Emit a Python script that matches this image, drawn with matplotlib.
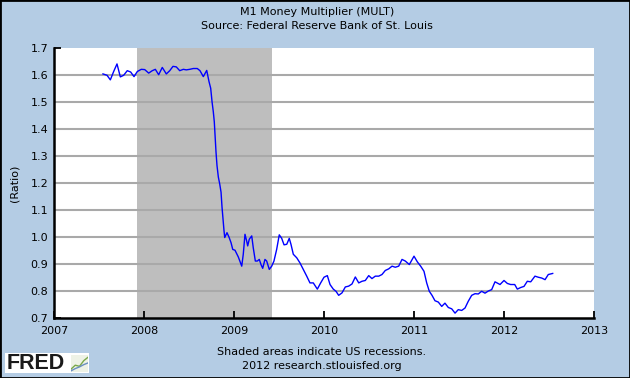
import matplotlib
matplotlib.use("agg")
import matplotlib.pyplot as plt
from matplotlib.patches import Rectangle

# M1 money multiplier (decimal years, ratio)
years = [
    2007.544, 2007.589, 2007.626, 2007.663, 2007.700, 2007.737, 2007.774, 2007.814,
    2007.852, 2007.889, 2007.926, 2007.970, 2008.008, 2008.052, 2008.092, 2008.126,
    2008.163, 2008.203, 2008.248, 2008.286, 2008.322, 2008.359, 2008.397, 2008.437,
    2008.470, 2008.508, 2008.548, 2008.592, 2008.622, 2008.659, 2008.697, 2008.722,
    2008.741, 2008.756, 2008.770, 2008.781, 2008.789, 2008.800, 2008.811, 2008.826,
    2008.841, 2008.856, 2008.867, 2008.878, 2008.889, 2008.897, 2008.922, 2008.944,
    2008.967, 2008.986, 2009.011, 2009.048, 2009.086, 2009.103, 2009.122, 2009.141,
    2009.152, 2009.170, 2009.197, 2009.214, 2009.237, 2009.259, 2009.281, 2009.300,
    2009.319, 2009.344, 2009.363, 2009.392, 2009.419, 2009.444, 2009.474, 2009.503,
    2009.530, 2009.556, 2009.586, 2009.614, 2009.633, 2009.659, 2009.697, 2009.733,
    2009.770, 2009.808, 2009.844, 2009.881, 2009.926, 2009.963, 2010.000, 2010.037,
    2010.067, 2010.103, 2010.133, 2010.163, 2010.200, 2010.237, 2010.274, 2010.311,
    2010.348, 2010.386, 2010.422, 2010.459, 2010.497, 2010.533, 2010.570, 2010.608,
    2010.644, 2010.681, 2010.719, 2010.756, 2010.792, 2010.830, 2010.867, 2010.903,
    2010.948, 2011.000, 2011.037, 2011.074, 2011.111, 2011.141, 2011.170, 2011.200,
    2011.233, 2011.270, 2011.308, 2011.344, 2011.381, 2011.419, 2011.456, 2011.492,
    2011.530, 2011.567, 2011.603, 2011.641, 2011.678, 2011.714, 2011.752, 2011.789,
    2011.826, 2011.863, 2011.900, 2011.956, 2012.000, 2012.037, 2012.074, 2012.119,
    2012.148, 2012.186, 2012.222, 2012.259, 2012.297, 2012.344, 2012.381, 2012.419,
    2012.456, 2012.492, 2012.541,
]
mult = [
    1.604, 1.599, 1.582, 1.613, 1.641, 1.593, 1.599, 1.616,
    1.611, 1.594, 1.613, 1.621, 1.620, 1.607, 1.616, 1.621,
    1.601, 1.628, 1.604, 1.616, 1.632, 1.630, 1.616, 1.621,
    1.619, 1.621, 1.624, 1.624, 1.616, 1.594, 1.617, 1.576,
    1.551, 1.501, 1.464, 1.427, 1.377, 1.315, 1.265, 1.222,
    1.197, 1.166, 1.110, 1.066, 1.023, 0.998, 1.016, 1.000,
    0.979, 0.954, 0.951, 0.926, 0.892, 0.936, 1.010, 0.985,
    0.967, 0.992, 1.004, 0.960, 0.911, 0.911, 0.917, 0.898,
    0.884, 0.917, 0.911, 0.880, 0.892, 0.911, 0.954, 1.008,
    0.995, 0.971, 0.973, 0.995, 0.973, 0.936, 0.923, 0.904,
    0.880, 0.855, 0.830, 0.830, 0.807, 0.830, 0.851, 0.857,
    0.824, 0.807, 0.799, 0.784, 0.793, 0.815, 0.818, 0.826,
    0.852, 0.830, 0.836, 0.839, 0.857, 0.846, 0.855, 0.855,
    0.861, 0.876, 0.882, 0.892, 0.888, 0.892, 0.917, 0.911,
    0.898, 0.929, 0.908, 0.892, 0.873, 0.830, 0.799, 0.784,
    0.764, 0.759, 0.743, 0.755, 0.739, 0.734, 0.718, 0.731,
    0.728, 0.737, 0.762, 0.784, 0.790, 0.789, 0.799, 0.792,
    0.800, 0.805, 0.834, 0.824, 0.839, 0.828, 0.824, 0.824,
    0.807, 0.813, 0.817, 0.836, 0.834, 0.855, 0.851, 0.848,
    0.842, 0.861, 0.865,
]

recession = (2007 + 11 / 12, 2009 + 5 / 12)  # Dec 2007 - Jun 2009
x_ticks = [2007, 2008, 2009, 2010, 2011, 2012, 2013]
y_ticks = [0.7, 0.8, 0.9, 1.0, 1.1, 1.2, 1.3, 1.4, 1.5, 1.6, 1.7]

bg = '#B4CCE4'
plt.rcParams['font.family'] = 'DejaVu Sans'

fig = plt.figure(figsize=(6.3, 3.78), dpi=100, facecolor=bg)
ax = fig.add_axes([54 / 630, 1 - 318 / 378, 540 / 630, 270 / 378])
ax.set_facecolor('white')

ax.axvspan(*recession, color='#BEBEBE', lw=0, zorder=1)
for y in y_ticks[1:-1]:
    ax.axhline(y, color='#A9A9A9', lw=1.5, zorder=2)
ax.plot(years, mult, color='#0000FF', lw=1.0, zorder=3)

ax.set_xlim(2007, 2013)
ax.set_ylim(0.7, 1.7)
ax.set_xticks(x_ticks)
ax.set_xticklabels([str(t) for t in x_ticks])
ax.set_yticks(y_ticks)
ax.set_yticklabels([f'{t:.1f}' for t in y_ticks])
ax.tick_params(axis='both', direction='in', length=5, width=1.3, color='black',
               labelsize=8)
ax.tick_params(axis='x', pad=6)
ax.tick_params(axis='y', pad=4)

for side in ('top', 'right'):
    ax.spines[side].set_visible(False)
for side in ('left', 'bottom'):
    ax.spines[side].set_linewidth(1.8)
    ax.spines[side].set_color('black')

ax.set_ylabel('(Ratio)', fontsize=8, labelpad=8)

fig.text(0.503, 1 - 12 / 378, 'M1 Money Multiplier (MULT)', ha='center', va='center', fontsize=8)
fig.text(0.503, 1 - 26 / 378, 'Source: Federal Reserve Bank of St. Louis', ha='center', va='center',
         fontsize=8)
fig.text(0.511, 1 - 352 / 378, 'Shaded areas indicate US recessions.', ha='center', va='center',
         fontsize=8)
fig.text(0.511, 1 - 366 / 378, '2012 research.stlouisfed.org', ha='center', va='center', fontsize=8)

# FRED logo box
fig.patches.append(Rectangle((5 / 630, 1 - 373 / 378), 84 / 630, 20 / 378,
                             transform=fig.transFigure, facecolor='white', edgecolor='none',
                             zorder=-1))
fig.text(7 / 630, 1 - 363.5 / 378, 'FRED', ha='left', va='center', fontsize=15.5,
         fontweight='bold', family='Liberation Sans', color='#1a1a1a')
icon = fig.add_axes([71 / 630, 1 - 372 / 378, 17 / 630, 17 / 378], zorder=5)
icon.set_facecolor('#eef2e6')
icon.plot([0, 1, 2, 3, 4], [0.5, 1.2, 1.0, 2.0, 2.6], color='#7aa84a', lw=1)
icon.plot([0, 1, 2, 3, 4], [0.2, 0.6, 0.9, 1.3, 1.6], color='#6a8fc0', lw=1)
icon.set_xlim(0, 4)
icon.set_ylim(0, 3)
icon.set_xticks([])
icon.set_yticks([])
for s in icon.spines.values():
    s.set_visible(False)

# outer dark frame
fig.patches.append(Rectangle((0, 0), 1, 1, transform=fig.transFigure, facecolor='none',
                             edgecolor='black', lw=2, zorder=10))

fig.savefig('out.png', dpi=100, facecolor=bg)
